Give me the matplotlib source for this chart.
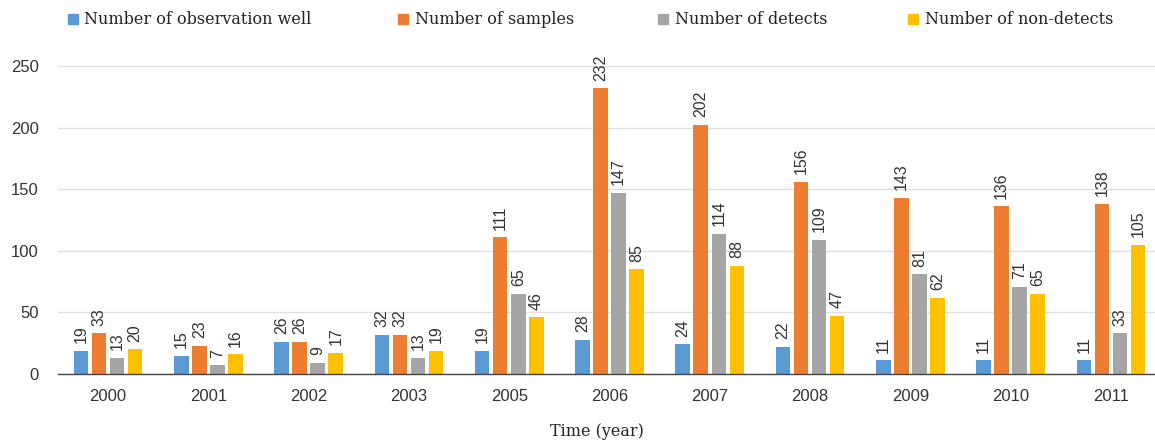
import matplotlib
matplotlib.use("Agg")
import matplotlib.pyplot as plt
from matplotlib.patches import Rectangle
import numpy as np

years = ["2000", "2001", "2002", "2003", "2005", "2006", "2007", "2008", "2009", "2010", "2011"]
wells = [19, 15, 26, 32, 19, 28, 24, 22, 11, 11, 11]
samples = [33, 23, 26, 32, 111, 232, 202, 156, 143, 136, 138]
detects = [13, 7, 9, 13, 65, 147, 114, 109, 81, 71, 33]
nondetects = [20, 16, 17, 19, 46, 85, 88, 47, 62, 65, 105]
series_names = ["Number of observation well", "Number of samples", "Number of detects", "Number of non-detects"]
colors = ["#5B9BD5", "#ED7D31", "#A5A5A5", "#FFC000"]

W, H = 1155, 447
fig = plt.figure(figsize=(W/100, H/100), dpi=100)
# plot area extends slightly beyond the right edge, as in the reference
ax = fig.add_axes([58/W, (H-374)/H, (1161-58)/W, (374-66)/H])

x = np.arange(len(years))
pitch = 0.18
width = 0.145
series = [wells, samples, detects, nondetects]
for i, (vals, c, name) in enumerate(zip(series, colors, series_names)):
    pos = x + (i - 1.5) * pitch
    ax.bar(pos, vals, width, color=c, label=name, zorder=3)
    for p, v in zip(pos, vals):
        ax.annotate(str(v), (p, v), xytext=(0, 5.5), textcoords="offset points",
                    rotation=90, ha="center", va="bottom",
                    fontsize=11.5, family="Liberation Sans", color="#333333", zorder=4)

ax.set_xlim(-0.5, len(years) - 0.5)
ax.set_ylim(0, 250)
ax.set_yticks([0, 50, 100, 150, 200, 250])
ax.set_xticks(x)
ax.set_xticklabels(years)
for lab in ax.get_xticklabels() + ax.get_yticklabels():
    lab.set_family("Liberation Sans")
    lab.set_fontsize(12)
    lab.set_color("#333333")
ax.tick_params(axis="both", length=0)
ax.tick_params(axis="x", pad=11)
ax.tick_params(axis="y", pad=14)
ax.grid(axis="y", color="#E0E0E0", linewidth=1, zorder=0)
ax.set_axisbelow(True)
for s in ["top", "right", "left"]:
    ax.spines[s].set_visible(False)
ax.spines["bottom"].set_color("#444444")
ax.spines["bottom"].set_linewidth(1)
ax.spines["bottom"].set_zorder(5)

fig.text(597/W, 1 - 431/H, "Time (year)", family="DejaVu Serif", fontsize=11.5,
         color="#222222", ha="center", va="center")

# legend, placed manually
marker_x = [68, 398, 658, 908]
text_x = [84, 415, 675, 925]
ly = 19
for mx, tx, c, name in zip(marker_x, text_x, colors, series_names):
    fig.patches.append(Rectangle((mx/W, 1 - (ly + 5)/H), 10/W, 10/H,
                                 transform=fig.transFigure, color=c, figure=fig))
    fig.text(tx/W, 1 - ly/H, name, family="DejaVu Serif", fontsize=11.5,
             color="#222222", ha="left", va="center")

fig.savefig("out.png", dpi=100)
